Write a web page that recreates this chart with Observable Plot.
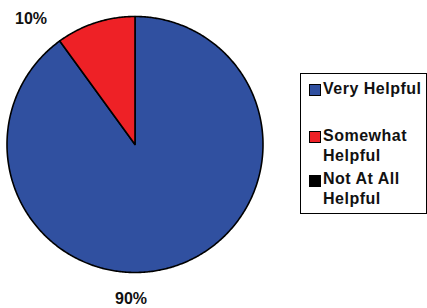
<!DOCTYPE html>
<html>
<head>
<meta charset="utf-8">
<script src="https://cdn.jsdelivr.net/npm/d3@7"></script>
<script src="https://cdn.jsdelivr.net/npm/@observablehq/plot@0.6"></script>
<style>
  html, body { margin: 0; padding: 0; background: #fff; }
  #wrap { position: relative; width: 427px; height: 308px; overflow: hidden; font-family: "Liberation Sans", Arial, sans-serif; }
  #wrap svg { position: absolute; left: 0; top: 0; }
  .lg-box { position: absolute; left: 300px; top: 73px; width: 127px; height: 141px; border: 1.5px solid #000; box-sizing: border-box; }
  .lg-sw { position: absolute; width: 12px; height: 12px; border: 1px solid #000; box-sizing: border-box; }
  .lg-tx { position: absolute; left: 323px; font-weight: bold; font-size: 16px; line-height: 20px; letter-spacing: 0.5px; color: #111; white-space: nowrap; }
</style>
</head>
<body>
<div id="wrap"></div>
<script>
// Data
const categories = ["Very Helpful", "Somewhat Helpful", "Not At All Helpful"];
const legendLines = [["Very Helpful"], ["Somewhat", "Helpful"], ["Not At All", "Helpful"]];
const values = [90, 10, 0];
const labelTexts = ["10%", "90%"];
const colors = ["#3050a0", "#ee2126", "#000000"];

// Build slice outlines from pie angles
const arcs = d3.pie().sort(null).value(d => d.value)(categories.map((c, i) => ({cat: c, value: values[i]})));
const pts = [];
for (const a of arcs) {
  if (a.data.value <= 0) continue;
  const n = Math.max(2, Math.ceil((a.endAngle - a.startAngle) / 0.01));
  pts.push({cat: a.data.cat, x: 0, y: 0});
  for (let k = 0; k <= n; k++) {
    const t = a.startAngle + (a.endAngle - a.startAngle) * k / n;
    pts.push({cat: a.data.cat, x: Math.sin(t), y: Math.cos(t)});
  }
  pts.push({cat: a.data.cat, x: 0, y: 0});
}

const chart = Plot.plot({
  width: 427,
  height: 308,
  marginLeft: 6.5,
  marginRight: 164.5,
  marginTop: 16,
  marginBottom: 36,
  x: {domain: [-1, 1], axis: null},
  y: {domain: [-1, 1], axis: null},
  color: {domain: categories, range: colors},
  style: {background: "transparent", fontFamily: "Liberation Sans, Arial, sans-serif"},
  marks: [
    Plot.line(pts, {x: "x", y: "y", z: "cat", fill: "cat", stroke: "#000", strokeWidth: 1.6, strokeLinejoin: "round", curve: "linear"}),
    Plot.text([labelTexts[0]], {text: d => d, frameAnchor: "top-left", textAnchor: "start", lineAnchor: "middle", dx: 8, dy: 2.5, fontSize: 16, fontWeight: "bold", fill: "#111", style: "letter-spacing:0.5px"}),
    Plot.text([labelTexts[1]], {text: d => d, frameAnchor: "bottom-left", textAnchor: "start", lineAnchor: "middle", dx: 108, dy: 26.5, fontSize: 16, fontWeight: "bold", fill: "#111", style: "letter-spacing:0.5px"})
  ]
});

const wrap = document.getElementById("wrap");
wrap.appendChild(chart);

// Legend
const box = document.createElement("div");
box.className = "lg-box";
wrap.appendChild(box);
const swTops = [84, 131, 175];
const txTops = [79, 126, 169];
categories.forEach((c, i) => {
  const sw = document.createElement("div");
  sw.className = "lg-sw";
  sw.style.left = "309px";
  sw.style.top = swTops[i] + "px";
  sw.style.background = colors[i];
  wrap.appendChild(sw);
  const tx = document.createElement("div");
  tx.className = "lg-tx";
  tx.style.top = txTops[i] + "px";
  tx.innerHTML = legendLines[i].join("<br>");
  wrap.appendChild(tx);
});
</script>
</body>
</html>
